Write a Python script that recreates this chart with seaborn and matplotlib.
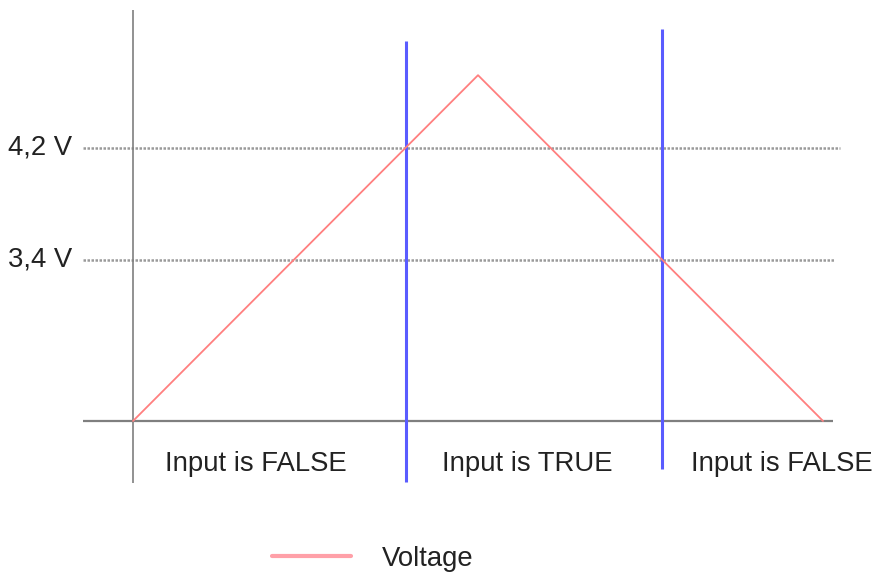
import matplotlib
matplotlib.use("Agg")
import matplotlib.pyplot as plt
from matplotlib.lines import Line2D
import seaborn as sns
import pandas as pd

# ---------------- DATA ------------------
# voltage ramp (time in arbitrary units, voltage in V)
time_pts = [0.0, 5.0, 10.0]
voltage_pts = [2.25, 4.72, 2.25]

thresholds = [4.2, 3.4]
threshold_labels = ["4,2 V", "3,4 V"]

# moments where the input switches (threshold crossings)
switch_times = [3.95, 7.67]

region_labels = ["Input is FALSE", "Input is TRUE", "Input is FALSE"]
region_centers = [1.78, 5.71, 9.41]

base_v = 2.25

# ---------------- STYLE ------------------
sns.set_style("white")
plt.rcParams["font.family"] = ["Liberation Sans", "DejaVu Sans"]

RED = "#ff7f7f"
BLUE = "#5a5cff"
GRAY = "#7f7f7f"
DOT = "#9a9a9a"
TXT = "#222222"
FS = 19.8

fig = plt.figure(figsize=(8.78, 5.74), dpi=100)
ax = fig.add_axes([0, 0, 1, 1])
ax.set_xlim(-1.928, 10.797)
ax.set_ylim(1.157, 5.257)
ax.axis("off")

# threshold dotted lines
ax.hlines(thresholds[0], -0.725, 10.25, colors=DOT, linestyles=(0, (1, 0.6)), linewidth=1.8)
ax.hlines(thresholds[1], -0.725, 10.17, colors=DOT, linestyles=(0, (1, 0.6)), linewidth=1.8)
for v, lab in zip(thresholds, threshold_labels):
    ax.text(-0.88, v, lab, ha="right", va="center", fontsize=FS, color=TXT)

# axes lines
ax.hlines(base_v, -0.725, 10.14, colors=GRAY, linewidth=1.6)
ax.vlines(0, 1.807, 5.186, colors=GRAY, linewidth=1.2)

# switching lines
ax.vlines(switch_times[0], 1.814, 4.964, colors=BLUE, linewidth=2.2)
ax.vlines(switch_times[1], 1.907, 5.05, colors=BLUE, linewidth=2.2)

# voltage curve
df = pd.DataFrame({"t": time_pts, "V": voltage_pts})
sns.lineplot(data=df, x="t", y="V", ax=ax, color=RED, linewidth=1.3, legend=False)

for x, lab in zip(region_centers, region_labels):
    ax.text(x, 1.94, lab, ha="center", va="center", fontsize=FS, color=TXT)

handle = Line2D([], [], color="#ffa0a8", linewidth=3)
fig.legend([handle], ["Voltage"], loc="center", bbox_to_anchor=(0.425, 0.026),
           frameon=False, fontsize=FS, handlelength=2.85, handletextpad=1.15,
           labelcolor=TXT)

fig.savefig("out.png", dpi=100)
